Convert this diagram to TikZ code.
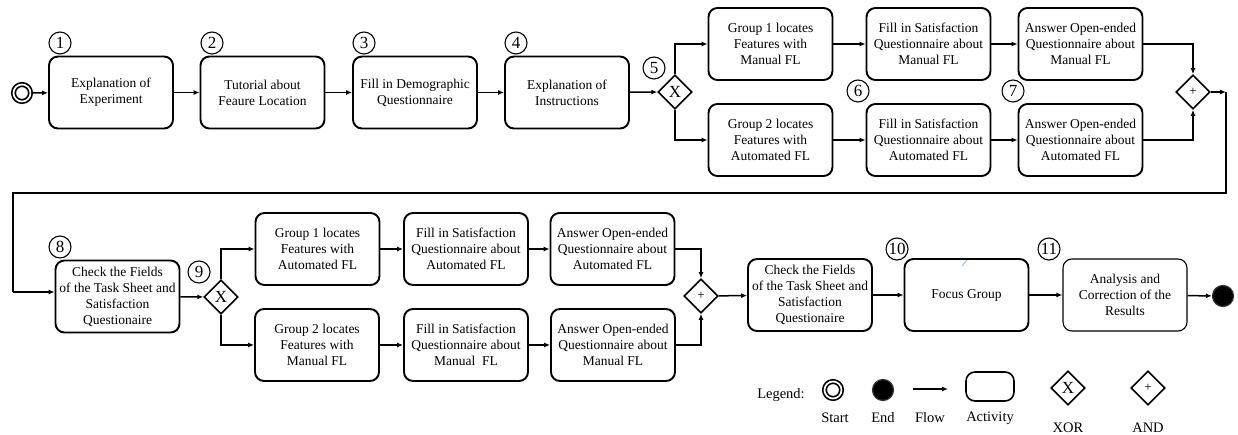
\documentclass[tikz,border=0pt]{standalone}
\usepackage{fontspec}
\setmainfont{Liberation Serif}
\usetikzlibrary{shapes.geometric,arrows.meta}
\begin{document}
\begin{tikzpicture}[x=1pt,y=-1pt,
  act/.style={draw, line width=1.9pt, rounded corners=9pt, minimum width=124pt,
    minimum height=72pt, align=center, inner sep=1pt,
    font=\rmfamily\fontsize{13.5}{16}\selectfont},
  gate/.style={draw, diamond, line width=1.6pt, minimum width=34pt,
    minimum height=34pt, inner sep=0pt},
  xorg/.style={gate, font=\rmfamily\fontsize{17}{17}\selectfont},
  andg/.style={gate, font=\rmfamily\fontsize{13}{13}\selectfont},
  num/.style={draw, circle, line width=1.1pt, minimum size=22pt, inner sep=0pt,
    font=\rmfamily\fontsize{17}{17}\selectfont},
  startev/.style={draw, circle, double, double distance=1.7pt, line width=1.7pt,
    minimum size=17pt, inner sep=0pt},
  endev/.style={draw=black!80, circle, fill=black, line width=1.2pt, minimum size=21pt,
    inner sep=0pt},
  flow/.style={line width=1.5pt, -{Latex[length=6pt,width=5pt]}},
  plain/.style={line width=1.5pt},
  lbl/.style={font=\rmfamily\fontsize{14.5}{16}\selectfont, inner sep=0pt},
]
\useasboundingbox (0,0) rectangle (1238,435);

% ---------- first row ----------
\node[startev] (start) at (22,93) {};
\node[act] (b1) at (111,92.5) {Explanation of\\Experiment};
\node[act] (b2) at (262.5,92.5) {Tutorial about\\Feaure Location};
\node[act] (b3) at (415,92.5) {Fill in Demographic\\Questionnaire};
\node[act] (b4) at (567,92.5) {Explanation of\\Instructions};
\node[xorg] (g5) at (675,92) {X};

\node[act] (g1m) at (770.5,44) {Group 1 locates\\Features with\\Manual FL};
\node[act] (s1m) at (928.5,44) {Fill in Satisfaction\\Questionnaire about\\Manual FL};
\node[act] (a1m) at (1080.5,44) {Answer Open-ended\\Questionnaire about\\Manual FL};
\node[act] (g2a) at (770.5,140) {Group 2 locates\\Features with\\Automated FL};
\node[act] (s2a) at (928.5,140) {Fill in Satisfaction\\Questionnaire about\\Automated FL};
\node[act] (a2a) at (1080.5,140) {Answer Open-ended\\Questionnaire about\\Automated FL};
\node[andg] (and1) at (1193,92) {+};

\node[num] (n1) at (60,43) {1};
\node[num] (n2) at (212,43) {2};
\node[num] (n3) at (364,43) {3};
\node[num] (n4) at (516,43) {4};
\node[num] (n5) at (654,68) {5};
\node[num] (n6) at (858,91) {6};
\node[num] (n7) at (1013,91) {7};

% ---------- second row ----------
\node[act] (b8) at (117.5,296.5) {Check the Fields\\of the Task Sheet and\\Satisfaction\\Questionaire};
\node[xorg] (g9) at (221,297) {X};
\node[act] (g1a) at (317.5,249) {Group 1 locates\\Features with\\Automated FL};
\node[act] (s1a) at (466,249) {Fill in Satisfaction\\Questionnaire about\\Automated FL};
\node[act] (a1a) at (612.5,249) {Answer Open-ended\\Questionnaire about\\Automated FL};
\node[act] (g2m) at (317,345) {Group 2 locates\\Features with\\Manual FL};
\node[act] (s2m) at (466,345) {Fill in Satisfaction\\Questionnaire about\\Manual\ \ FL};
\node[act] (a2m) at (613,345) {Answer Open-ended\\Questionnaire about\\Manual FL};
\node[andg] (and2) at (701,296) {+};
\node[act] (b12) at (810,295) {Check the Fields\\of the Task Sheet and\\Satisfaction\\Questionaire};
\node[act] (fg) at (966.5,295) {Focus Group};
\node[act, line width=1.1pt] (res) at (1125,295) {Analysis and\\Correction of the\\Results};
\node[endev] (end) at (1223,296) {};

\node[num] (n8) at (60,247) {8};
\node[num] (n9) at (199,272) {9};
\node[num] (n10) at (897,249) {10};
\node[num] (n11) at (1049,249) {11};

% small pen mark inside the focus group box
\draw[line width=0.7pt, draw=blue!45!cyan!60] (962,266) -- (967,260);

% ---------- connectors, first row ----------
\draw[flow] (start) -- (b1);
\draw[flow] (b1) -- (b2);
\draw[flow] (b2) -- (b3);
\draw[flow] (b3) -- (b4);
\draw[flow] (b4) -- (g5);
\draw[flow] (g5.north) |- (g1m);
\draw[flow] (g5.south) |- (g2a);
\draw[flow] (g1m) -- (s1m);
\draw[flow] (s1m) -- (a1m);
\draw[flow] (g2a) -- (s2a);
\draw[flow] (s2a) -- (a2a);
\draw[flow] (a1m) -| (and1);
\draw[flow] (a2a) -| (and1);

% ---------- wrap-around to the second row ----------
\coordinate (c1) at (1226,92);
\coordinate (c2) at (1226,193);
\coordinate (c3) at (13,193);
\coordinate (c4) at (13,292);
\draw[flow] (and1) -- (c1);
\draw[plain] (c1) -- (c2) -- (c3) -- (c4);
\draw[flow] (c4) -- (c4 -| b8.west);

% ---------- connectors, second row ----------
\draw[flow] (b8) -- (g9);
\draw[flow] (g9.north) |- (g1a);
\draw[flow] (g9.south) |- (g2m);
\draw[flow] (g1a) -- (s1a);
\draw[flow] (s1a) -- (a1a);
\draw[flow] (g2m) -- (s2m);
\draw[flow] (s2m) -- (a2m);
\draw[flow] (a1a) -| (and2);
\draw[flow] (a2m) -| (and2);
\draw[flow] (and2) -- (b12);
\draw[flow] (b12) -- (fg);
\draw[flow] (fg) -- (res);
\draw[flow] (res) -- (end);

% ---------- legend ----------
\node[lbl] (lg) at (781,395) {Legend:};
\node[startev] (lstart) at (833,390) {};
\node[endev] (lend) at (883,390) {};
\coordinate (lf1) at (913,389);
\coordinate (lf2) at (948,389);
\draw[line width=1.2pt, -{Latex[length=6pt,width=5pt]}] (lf1) -- (lf2);
\node[draw, line width=1.6pt, rounded corners=9pt, minimum width=48pt,
  minimum height=29pt] (lact) at (990,386.5) {};
\node[xorg] (lxor) at (1068,388) {X};
\node[andg] (land) at (1148,388) {+};
\node[lbl] (tstart) at (835,418) {Start};
\node[lbl] (tend) at (883,418) {End};
\node[lbl] (tflow) at (930,418) {Flow};
\node[lbl] (tact) at (990,418) {Activity};
\node[lbl] (txor) at (1068,428) {XOR};
\node[lbl] (tand) at (1148,428) {AND};
\end{tikzpicture}
\end{document}
